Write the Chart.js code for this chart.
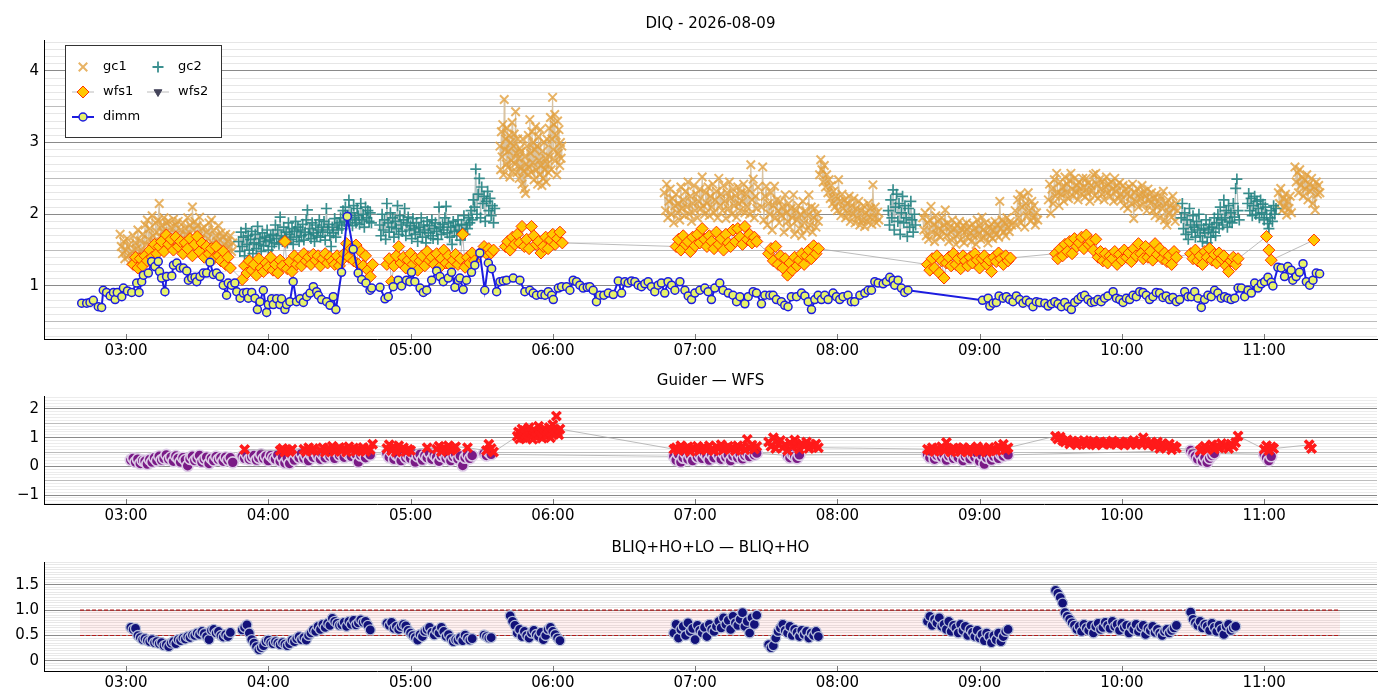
<!DOCTYPE html>
<html>
<head>
<meta charset="utf-8">
<title>DIQ - 2026-08-09</title>
<script src="https://cdn.jsdelivr.net/npm/chart.js@4.4.1/dist/chart.umd.min.js"></script>
<style>
  body { margin: 0; background: #fff; }
  .panel { position: absolute; left: 0; width: 1400px; }
</style>
</head>
<body>
<div class="panel" style="top:0;height:365px"><canvas id="diq"></canvas></div>
<div class="panel" style="top:365px;height:165px"><canvas id="guider"></canvas></div>
<div class="panel" style="top:530px;height:167px"><canvas id="bliq"></canvas></div>
<script>
// time axis is minutes after 00:00 UT
const xTickMinutes = [180, 240, 300, 360, 420, 480, 540, 600, 660];

// dimm seeing (irregular sampling, explicit times)
const dimmT = [161.3,163.4,164.8,166.2,168.3,169.7,170.4,171.8,173.3,174.7,175.4,176.3,178.2,178.9,180.6,182.4,184.5,185.5,186.6,187.3,189.4,190.8,192.2,193.6,194.1,195.0,196.4,197.1,199.3,200.0,201.4,202.8,204.2,205.6,206.3,207.7,209.1,209.8,211.2,212.6,214.0,215.4,216.8,218.2,219.6,221.0,222.4,223.1,224.5,225.9,226.7,228.1,229.5,230.9,231.6,233.0,234.4,235.4,236.5,237.9,239.3,240.0,241.4,242.1,243.5,244.9,245.6,247.0,247.7,249.1,250.5,251.9,253.4,254.8,256.2,257.6,259.0,260.4,261.1,262.5,264.6,266.0,267.4,268.5,270.9,273.3,275.8,277.9,279.4,281.2,282.9,283.6,287.1,289.2,290.6,292.7,294.8,296.2,298.3,299.7,300.4,301.8,304.0,305.4,306.8,308.9,311.0,312.4,313.8,315.9,317.3,318.7,320.1,320.8,322.2,323.6,325.7,327.1,329.2,331.3,332.8,334.2,336.3,337.7,339.1,340.5,343.3,346.1,
  348.2,350.3,351.7,353.1,355.2,356.7,358.1,359.5,360.2,362.3,363.7,365.8,367.2,368.6,370.0,371.4,372.8,374.5,375.6,377.0,378.4,379.8,381.5,383.4,385.5,387.6,389.0,390.4,391.8,393.2,394.6,396.0,397.4,398.8,400.2,401.6,403.0,404.4,405.8,407.2,408.6,410.1,411.5,413.6,415.7,417.1,418.5,419.9,422.0,424.1,425.5,426.9,428.3,430.4,431.8,434.0,436.0,437.5,438.9,441.0,442.4,444.5,445.9,448.0,449.4,451.5,452.9,454.3,456.4,457.8,459.2,460.6,462.8,464.9,466.3,467.7,469.1,470.5,471.9,473.3,474.7,476.1,478.2,479.6,481.0,482.4,484.5,485.9,487.3,489.5,491.6,493.0,494.4,495.8,497.2,499.3,500.7,502.1,503.5,504.2,505.6,507.0,508.4,509.8,
  541.2,543.6,544.3,545.7,547.1,548.2,549.9,551.3,552.7,554.1,555.5,556.9,558.3,559.7,561.1,562.5,563.9,565.3,567.5,568.9,570.3,571.7,573.1,574.5,575.9,577.3,578.7,580.1,581.5,582.9,584.3,585.7,587.1,588.5,589.9,591.3,592.7,594.1,596.3,597.7,599.1,600.5,601.9,603.3,604.7,606.1,607.5,608.9,610.3,611.7,613.1,614.5,615.9,617.3,618.7,620.1,621.5,623.0,624.4,626.5,627.9,629.3,630.7,632.1,633.5,634.9,636.3,637.7,639.1,640.5,641.9,643.3,644.7,646.1,647.6,649.0,650.4,651.8,653.2,654.6,656.0,657.4,658.8,660.2,661.6,663.0,663.7,665.8,667.2,668.6,670.0,671.4,672.1,673.5,674.9,676.4,677.8,679.2,680.6,682.0,683.4];
const dimmV = [0.76,0.76,0.77,0.80,0.71,0.70,0.94,0.91,0.86,0.91,0.81,0.91,0.85,0.97,0.93,0.91,1.04,0.91,1.06,1.15,1.18,1.34,1.27,1.34,1.20,1.11,0.92,1.13,1.14,1.29,1.32,1.25,1.25,1.21,1.08,1.11,1.12,1.06,1.13,1.18,1.18,1.33,1.16,1.18,1.13,1.01,0.87,1.04,1.01,1.04,0.92,0.83,0.90,0.91,0.83,0.91,0.83,0.67,0.78,0.94,0.63,0.74,0.82,0.74,0.82,0.74,0.82,0.67,0.74,0.78,1.06,0.78,0.82,0.77,0.85,0.90,0.99,0.92,0.87,0.81,0.78,0.73,0.85,0.67,1.19,1.97,1.51,1.18,1.09,1.04,0.94,0.97,0.98,0.82,0.85,0.99,1.08,1.00,1.08,1.06,1.19,1.06,0.97,0.91,0.94,1.08,1.21,1.13,1.06,1.11,1.19,0.98,1.08,1.11,0.95,1.08,1.19,1.29,1.46,0.94,1.32,1.24,0.92,1.06,1.07,1.08,1.11,1.08,
  0.92,0.94,0.90,0.87,0.88,0.87,0.92,0.87,0.81,0.97,0.99,0.99,0.94,1.08,1.06,1.01,0.97,0.98,0.99,0.94,0.78,0.87,0.87,0.90,0.88,1.07,0.90,1.06,1.04,1.07,1.06,1.01,0.99,1.03,1.06,0.99,0.92,1.01,1.04,0.90,1.06,1.01,0.94,1.06,0.94,0.86,0.81,0.90,0.94,0.97,0.92,0.81,0.97,1.04,0.94,0.90,0.87,0.78,0.85,0.75,0.85,0.92,0.90,0.75,0.87,0.87,0.87,0.81,0.78,0.73,0.71,0.85,0.85,0.90,0.86,0.78,0.67,0.81,0.87,0.81,0.87,0.81,0.90,0.85,0.81,0.85,0.87,0.78,0.78,0.87,0.90,0.94,0.94,1.06,1.04,1.03,1.06,1.12,1.08,1.01,1.08,0.97,0.91,0.94,
  0.80,0.83,0.72,0.76,0.77,0.86,0.83,0.85,0.81,0.78,0.86,0.81,0.76,0.80,0.77,0.71,0.78,0.77,0.76,0.72,0.75,0.78,0.75,0.71,0.77,0.71,0.67,0.77,0.81,0.85,0.87,0.81,0.77,0.78,0.81,0.78,0.83,0.86,0.92,0.83,0.81,0.77,0.83,0.81,0.87,0.85,0.92,0.91,0.87,0.81,0.85,0.91,0.90,0.84,0.86,0.81,0.84,0.78,0.81,0.92,0.85,0.85,0.92,0.83,0.70,0.81,0.87,0.85,0.94,0.90,0.83,0.85,0.83,0.81,0.83,0.97,0.97,0.85,0.94,0.90,1.04,0.97,1.03,1.06,1.12,1.05,1.00,1.26,1.25,1.13,1.27,1.22,1.08,1.13,1.19,1.31,1.06,1.01,1.08,1.18,1.17];

// guide-camera / wfs series: each block is [first minute, cadence in minutes, values]
const gc1Blocks = [
  [177.5, 0.5, [1.72,1.55,1.45,1.62,1.38,1.50,1.66,1.42,1.58,1.35,1.48,1.70,1.40,1.60,1.52,1.78,1.44,1.63,1.50,1.72,1.46,1.85,1.58,1.92,1.65,1.80,1.55,1.98,1.70,1.62,1.88,1.75,1.92,2.15,1.68,1.84,1.76,1.95,1.60,1.88,1.72,1.90,1.58,1.82,1.68,1.93,1.74,1.85,1.62,1.90,1.70,1.78,1.55,1.88,1.66,1.80,1.72,1.95,1.58,1.85,1.68,2.10,1.78,1.90,1.62,1.84,1.70,1.96,1.64,1.80,1.58,1.82,1.50,1.75,1.66,1.88,1.55,1.92,1.60,1.78,1.48,1.70,1.62,1.84,1.52,1.74,1.50,1.68,1.58,1.72,1.45,1.62,1.55,1.70,1.48,1.60]],
  [337.7, 0.3, [2.95,2.62,3.15,2.80,3.25,2.55,3.60,2.90,3.05,2.70,3.20,2.65,2.88,3.10,2.52,3.00,2.75,3.28,2.60,2.95,3.12,2.70,3.43,2.85,2.58,3.05,2.78,2.50,2.92,2.66,2.88,2.42,3.05,2.60,2.35,2.80,2.29,2.70,2.95,2.55,3.10,2.65,3.32,2.85,2.58,3.15,2.72,3.00,2.48,2.90,3.22,2.62,2.95,2.42,3.08,2.75,2.55,3.18,2.68,2.40,2.88,2.50,3.00,2.62,2.78,2.45,3.05,2.70,2.58,3.20,2.80,3.35,2.62,3.05,3.63,2.90,3.25,3.39,2.75,3.10,2.55,3.30,2.85,3.18,2.68,3.00,2.78,2.95]],
  [407, 0.5, [2.30,2.05,2.42,1.95,2.18,2.35,2.00,2.22,1.88,2.12,2.28,2.02,2.15,1.92,2.38,2.08,2.20,1.98,2.32,2.10,2.45,2.00,2.25,1.90,2.15,2.40,2.05,2.28,1.95,2.18,2.35,2.08,2.52,2.12,2.00,2.30,2.15,2.38,1.98,2.25,2.10,2.42,2.02,2.20,2.32,1.95,2.50,2.12,2.28,2.05,2.40,2.18,1.94,2.30,2.08,2.45,2.22,2.00,2.35,2.12,2.26,1.96,2.38,2.15,2.05,2.30,2.18,2.42,2.02,2.28,2.10,2.35,2.00,2.69,2.20,2.49,1.95,2.25,2.08,2.38]],
  [448, 0.5, [2.10,2.66,1.92,2.25,2.39,1.85,2.15,2.00,2.30,1.78,2.12,2.39,1.95,2.20,2.05,1.88,2.18,1.98,2.10,1.75,2.27,2.02,1.90,2.15,1.82,2.08,1.95,2.27,1.72,2.05,1.92,2.12,1.80,2.00,1.70,2.18,1.88,2.05,1.78,1.98,2.27,1.85,2.10,1.75,1.95,2.08,1.82,2.00,1.90]],
  [472.5, 0.5, [2.55,2.76,2.62,2.45,2.68,2.38,2.55,2.30,2.48,2.22,2.40,2.15,2.32,2.10,2.25,2.05,2.48,2.18,1.98,2.28,2.08,2.20,1.95,2.15,2.02,2.25,1.90,2.12,2.00,2.22,1.88,2.08,1.95,2.18,1.85,2.05,1.92,2.12,1.83,2.02,1.90,2.15,1.96,2.08,1.86,2.41,1.95,2.10,1.88,2.03,1.92]],
  [516, 0.5, [1.95,1.78,2.02,1.70,1.88,1.65,1.92,2.11,1.75,1.85,1.62,1.98,1.72,1.90,1.80,1.68,1.95,1.76,1.85,2.06,1.70,1.88,1.62,1.82,1.75,1.92,1.66,1.80,1.58,1.85,1.72,1.90,1.64,1.78,1.84,1.60,1.76,1.88,1.68,1.82,1.74,1.62,1.86,1.70,1.80,1.58,1.92,1.72,1.84,1.65,1.96,1.78,1.68,1.88,1.74,1.60,1.82,1.70,1.86,1.66,1.78,1.90,1.72,1.85,1.68,2.18,1.80,1.92,1.75,1.88,1.70,1.95,1.82,1.76,1.90,1.85]],
  [555, 0.5, [2.05,1.85,2.20,1.95,2.28,1.88,2.10,2.25,1.82,2.15,1.98,2.30,2.05,1.90,2.18,1.95,2.12,1.85,2.02,1.92]],
  [569, 0.5, [2.20,2.42,2.01,2.35,2.15,2.48,2.25,2.57,2.30,2.12,2.45,2.28,2.38,2.18,2.52,2.30,2.42,2.22,2.47,2.57,2.35,2.25,2.50,2.32,2.40,2.20,2.45,2.36,2.28,2.50,2.38,2.24,2.50,2.30,2.44,2.18,2.40,2.33,2.55,2.26,2.57,2.42,2.22,2.48,2.35,2.28,2.46,2.20,2.38,2.52,2.30,2.42,2.25,2.45,2.35,2.18,2.50,2.32,2.40,2.22,2.44,2.28,2.20,2.40,2.12,2.35,2.28,2.08,2.38,2.25,2.15,2.42,1.94,2.30,2.18,2.36,2.10,2.28,2.22,2.40,2.14,2.32,2.25,2.05,2.35,2.20,2.15,2.30,2.05,2.22,1.98,2.28,2.10,2.18,1.95,2.25,2.08,2.32,1.92,2.15,1.85,2.20,2.02,2.12,1.96,2.25,2.08,1.90,2.15,2.05]],
  [666, 0.5, [2.30,2.15,2.36,2.05,2.22,2.10,2.28,1.99,2.18,2.08,2.25,2.02]],
  [673, 0.5, [2.66,2.45,2.58,2.30,2.62,2.40,2.52,2.25,2.48,2.35,2.55,2.20,2.42,2.32,2.50,2.15,2.38,2.06,2.45,2.28,2.40,2.30]]
];
const gc2Blocks = [
  [227.5, 0.5, [1.62,1.48,1.75,1.55,1.68,1.42,1.80,1.58,1.70,1.50,1.65,1.76,1.45,1.60,1.72,1.52,1.83,1.58,1.66,1.48,1.74,1.56,1.68,1.62,1.78,1.50,1.64,1.70,1.55,1.72,1.60,1.85,1.66,1.78,1.58,1.96,1.70,1.62,1.82,1.68,1.75,1.60,1.88,1.72,1.65,1.80,1.58,1.76,1.90,1.68,1.82,1.62,1.78,1.70,1.86,1.64,1.75,1.92,2.06,1.72,1.80,1.66,1.88,1.74,1.62,1.85,1.70,1.78,1.92,1.68,1.82,1.75,1.90,1.64,2.08,1.78,1.86,1.70,1.55,1.82,1.74,1.94,1.68,1.85,1.78,1.88,1.95,1.80,2.05,1.90,2.10,1.85,1.98,2.20,1.92,2.02,1.84,2.12,1.95,1.88,2.08,1.98,1.86,2.15,1.92,2.00,1.82,2.10,1.95,2.05,1.90,2.02,1.88]],
  [287, 0.5, [1.85,1.70,2.00,1.78,1.92,1.65,2.15,1.88,1.75,2.02,1.82,1.95,1.68,1.90,1.80,2.12,1.72,1.98,1.85,1.76,1.92,2.08,1.70,1.88,1.96,1.78,1.84,1.66,1.94,1.80,1.72,1.88,1.62,1.82,1.75,1.95,1.68,1.85,1.78,1.60,1.90,1.74,1.84,1.70,1.92,1.66,1.80,1.88,1.76,1.65,2.10,1.82,1.72,1.86,1.78,1.95,2.11,1.74,1.88,1.68,1.82,1.58,1.90,1.76,1.84,1.70,1.92,1.78,1.64,1.86,1.75,1.98,1.72,1.85,1.80,1.95,1.88,2.05,1.92,2.20,2.10,2.63,2.00,2.28,2.50,1.95,2.38,2.15,2.25,1.90,2.18,2.32,2.05,2.22,1.98,2.12,1.88,2.08]],
  [501.5, 0.5, [2.05,1.85,2.20,1.95,2.34,1.78,2.10,2.28,1.90,2.15,1.72,2.02,2.25,1.88,2.12,1.95,1.69,2.08,1.82,2.18,1.92,1.75,2.00,1.85]],
  [625, 0.5, [1.95,2.15,1.80,2.02,1.72,1.92,1.65,2.08,1.85,1.75,1.98,1.82,1.68,1.90,1.78,2.00,1.70,1.85,1.62,1.80,1.74,1.92,1.60,1.78,1.86,1.68,1.82,1.75,1.95,1.70,1.88,2.00,1.80,2.10,1.92,1.85,2.20,1.95,2.05,1.82,2.12,1.90,2.02,1.88,2.15,1.96,2.36,2.49,2.05,1.92]],
  [653, 0.5, [2.15,2.29,2.05,2.22,1.98,2.12,2.25,2.00,2.18,2.08,1.95,2.20,2.02,2.14,1.92,2.10,2.00,1.87,1.80,1.95,2.05,1.90,2.12,2.00,2.08]]
];
const wfs1Blocks = [
  [183, 1, [1.30,1.40,1.25,1.38,1.28,1.42,1.35,1.50,1.40,1.58,1.45,1.55,1.62,1.48,1.71,1.58,1.65,1.50,1.68,1.55,1.62,1.45,1.60,1.52,1.66,1.42,1.58,1.69,1.48,1.60,1.40,1.55,1.45,1.52,1.38,1.55,1.42,1.35,1.48,1.30,1.40,1.25]],
  [229, 1, [1.09,1.28,1.18,1.35,1.22,1.30,1.15,1.38,1.25,1.20,1.32,1.26,1.40,1.22,1.30,1.18,1.36,1.28,1.62,1.24,1.34,1.20,1.42,1.30,1.38,1.28,1.45,1.35,1.40,1.30,1.44,1.36,1.42,1.28,1.38,1.45,1.32,1.40,1.35,1.30,1.42,1.28,1.36]],
  [272, 1, [1.45,1.59,1.40,1.52,1.35,1.57,1.30,1.48,1.28,1.42,1.22,1.13,1.30]],
  [290, 1, [1.30,1.38,1.06,1.28,1.42,1.55,1.32,1.40,1.25,1.36,1.45,1.30,1.38,1.22,1.35,1.42,1.28,1.48,1.36,1.40,1.30,1.45,1.25,1.38,1.50,1.32,1.42,1.28,1.36,1.44,1.30,1.38,1.72,1.26,1.40,1.32,1.46,1.35]],
  [330, 1, [1.48,1.55,1.45,1.52,1.46,1.50]],
  [340, 1, [1.55,1.62,1.50,1.68,1.58,1.72,1.60,1.83,1.55,1.65,1.52,1.83,1.70,1.58,1.62,1.46,1.55,1.68,1.52,1.64,1.72,1.58,1.66,1.75,1.60]],
  [412, 1, [1.55,1.65,1.50,1.70,1.58,1.62,1.48,1.68,1.56,1.72,1.60,1.80,1.65,1.55,1.70,1.62,1.52,1.75,1.58,1.66,1.50,1.72,1.60,1.55,1.78,1.62,1.80,1.68,1.58,1.83,1.65,1.72,1.60,1.68,1.62]],
  [451, 1, [1.45,1.52,1.35,1.55,1.30,1.42,1.25,1.38,1.15,1.32,1.22,1.40,1.28,1.36,1.45,1.30,1.42,1.50,1.38,1.56,1.45,1.52]],
  [518, 1, [1.30,1.22,1.38,1.25,1.42,1.18,1.35,1.11,1.32,1.40,1.28,1.45,1.30,1.38,1.24,1.42,1.35,1.28,1.40,1.32,1.45,1.36,1.25,1.38,1.42,1.30,1.36,1.20,1.40,1.34,1.46,1.38,1.30,1.42,1.35,1.39]],
  [572, 1, [1.45,1.38,1.52,1.42,1.58,1.48,1.62,1.45,1.66,1.55,1.60,1.68,1.52,1.71,1.58,1.62,1.50,1.65,1.40,1.48,1.35,1.45,1.32,1.42,1.38,1.48,1.30,1.44,1.36,1.50,1.40,1.46,1.34,1.52,1.42,1.59,1.45,1.38,1.55,1.40,1.48,1.36,1.59,1.44,1.52,1.38,1.46,1.34,1.42,1.30,1.48,1.40]],
  [629, 1, [1.45,1.38,1.50,1.35,1.42,1.30,1.48,1.40,1.52,1.36,1.44,1.32,1.46,1.38,1.42,1.28,1.20,1.35,1.40,1.30,1.38]],
  [661, 1, [1.69,1.50,1.36]],
  [681, 1, [1.64]]
];
const wfs2Blocks = [];

// Guider - WFS panel
const guiderBlocks = [
  [182, 1, [0.22,0.28,0.15,0.25,0.10,0.20,0.18,0.08,0.24,0.15,0.30,0.20,0.35,0.22,0.28,0.40,0.25,0.32,0.18,0.36,0.28,0.15,0.30,0.22,0.02,0.26,0.35,0.20,0.28,0.38,0.15,0.25,0.32,0.10,0.28,0.20,0.34,0.24,0.30,0.18,0.32,0.22,0.30,0.14]],
  [229, 1, [0.35,0.28,0.40,0.25,0.32,0.38,0.22,0.30,0.42,0.28,0.35,0.20,0.38,0.30,0.25,0.40,0.18,0.32,0.12,0.28,0.10,0.35,0.22,0.40,0.30,0.45,0.28,0.38,0.20,0.42,0.32,0.48,0.35,0.25,0.40,0.30,0.45,0.35,0.42,0.28,0.50,0.38,0.45,0.32,0.48,0.40,0.35,0.52,0.42,0.15,0.38,0.45,0.30,0.48,0.40]],
  [290, 1, [0.45,0.32,0.50,0.25,0.40,0.35,0.20,0.42,0.30,0.38,0.28,0.45,0.15,0.35,0.42,0.22,0.38,0.30,0.46,0.25,0.40,0.32,0.18,0.36,0.44,0.28,0.38,0.20,0.34,0.42,0.26,0.36,0.03,0.30,0.40,0.28,0.38]],
  [331, 1, [0.45,0.38,0.50,0.42]],
  [411, 1, [0.35,0.22,0.42,0.15,0.30,0.45,0.25,0.38,0.20,0.48,0.32,0.40,0.28,0.45,0.35,0.22,0.42,0.30,0.50,0.38,0.25,0.45,0.32,0.40,0.20,0.36,0.48,0.30,0.42,0.26,0.38,0.45,0.34,0.52,0.40,0.46]],
  [459, 1, [0.38,0.30,0.42,0.35,0.28,0.40]],
  [518, 1, [0.42,0.30,0.48,0.25,0.38,0.45,0.32,0.40,0.22,0.36,0.44,0.28,0.38,0.30,0.46,0.20,0.35,0.42,0.26,0.40,0.32,0.45,0.18,0.38,0.08,0.30,0.40,0.22,0.35,0.45,0.28,0.42,0.36,0.48,0.40]],
  [629, 1, [0.55,0.45,0.35,0.25,0.40,0.18,0.30,0.14,0.28,0.38,0.45]],
  [660, 1, [0.42,0.30,0.20,0.35]]
];
const wfsBlocks = [
  [230, 1, [0.59]],
  [245, 1, [0.55,0.62,0.50,0.58,0.52,0.60]],
  [255, 1, [0.60,0.52,0.65,0.55,0.62]],
  [262, 1, [0.55,0.65,0.50,0.62,0.58,0.70,0.52,0.60,0.66,0.55,0.62,0.50,0.68,0.58,0.64,0.53,0.60,0.56,0.66,0.52,0.62,0.58,0.77]],
  [290, 1, [0.62,0.75,0.55,0.68,0.50,0.72,0.58,0.65,0.52,0.60,0.55]],
  [307, 1, [0.65]],
  [311, 1, [0.60,0.70,0.52,0.66,0.58,0.72,0.55,0.62,0.68]],
  [324, 1, [0.65]],
  [332, 1, [0.55,0.77,0.62,0.50]],
  [345, 0.5, [1.05,1.20,0.95,1.15,1.30,1.00,1.25,1.10,0.98,1.22,1.35,1.05,1.18,0.94,1.28,1.12,1.02,1.20,1.40,1.08,1.25,0.98,1.15,1.30,1.05,1.22,1.10,1.35,1.00,1.18,1.45,1.12,1.28,1.75,1.20,1.10,1.30]],
  [411, 1, [0.60,0.65,0.55,0.72,0.58,0.62,0.68,0.52,0.64,0.60,0.70,0.56,0.62,0.66,0.58,0.72,0.60,0.54,0.68,0.62,0.75,0.58,0.64,0.70,0.60,0.66,0.55,0.72,0.62,0.68,0.58,0.94,0.65,0.74,0.60,0.70]],
  [451, 1, [0.85,0.70,1.00,0.62,0.78,0.90,0.65,0.75,0.55,0.82,0.68,0.92,0.72,0.60,0.80,0.70,0.85,0.62,0.75,0.68,0.78,0.65]],
  [518, 1, [0.60,0.55,0.65,0.52,0.62,0.58,0.68,0.55,0.83,0.60,0.50,0.64,0.56,0.62,0.52,0.66,0.58,0.50,0.63,0.55,0.60,0.68,0.52,0.58,0.62,0.50,0.66,0.56,0.60,0.54,0.70,0.62,0.77,0.58,0.65]],
  [572, 1, [1.05,0.95,1.02,0.90,0.85,0.92,0.78,0.88,0.82,0.75,0.86,0.80,0.90,0.76,0.84,0.80,0.88,0.74,0.82,0.86,0.78,0.84,0.80,0.76,0.88,0.82,0.78,0.85,0.80,0.74,0.86,0.82,0.78,0.90,0.76,0.84,0.80,1.00,0.86,0.74,0.82,0.78,0.70,0.85,0.62,0.80,0.72,0.66,0.78,0.58,0.70,0.64]],
  [633, 1, [0.55,0.62,0.70,0.58,0.66,0.75,0.60,0.72,0.64,0.80,0.68,0.74,0.62,0.78,0.70,0.83,1.06]],
  [660, 1, [0.60,0.72,0.55,0.68,0.62]],
  [679, 1, [0.75,0.62]]
];

// BLIQ+HO+LO - BLIQ+HO panel
const bliqBlocks = [
  [182, 1, [0.66,0.62,0.64,0.50,0.46,0.42,0.44,0.40,0.38,0.42,0.36,0.38,0.34,0.36,0.30,0.32,0.28,0.35,0.38,0.34,0.42,0.40,0.45,0.43,0.48,0.46,0.51,0.50,0.55,0.52,0.58,0.54,0.48,0.42,0.60,0.62,0.55,0.58,0.50,0.47,0.52,0.48,0.56]],
  [229, 1, [0.61,0.66,0.71,0.55,0.42,0.35,0.28,0.22,0.26,0.30,0.38,0.41,0.36,0.34,0.38,0.35,0.32,0.36,0.33,0.30,0.34,0.41,0.38,0.44,0.48,0.42,0.46,0.41,0.50,0.55,0.61,0.58,0.68,0.62,0.72,0.66,0.74,0.70,0.84,0.78,0.74,0.70,0.71,0.76,0.68,0.78,0.72,0.80,0.71,0.75,0.81,0.76,0.78,0.70,0.61]],
  [290, 1, [0.74,0.70,0.76,0.64,0.68,0.62,0.68,0.72,0.69,0.60,0.55,0.50,0.46,0.41,0.52,0.48,0.58,0.62,0.66,0.56,0.51,0.60,0.55,0.66,0.58,0.48,0.52,0.44,0.38,0.42,0.41,0.46,0.40,0.51,0.45,0.41,0.44]],
  [331, 1, [0.51,0.48,0.45,0.46]],
  [342, 1, [0.89,0.78,0.70,0.55,0.62,0.48,0.58,0.50,0.45,0.55,0.60,0.52,0.48,0.56,0.42,0.50,0.62,0.66,0.58,0.52,0.45,0.40]],
  [411, 1, [0.55,0.72,0.45,0.62,0.68,0.50,0.75,0.58,0.64,0.42,0.70,0.60,0.55,0.66,0.48,0.72,0.62,0.58,0.68,0.78,0.65,0.85,0.72,0.80,0.62,0.88,0.75,0.70,0.82,0.95,0.68,0.78,0.55,0.85,0.72,0.90]],
  [451, 1, [0.32,0.26,0.30,0.45,0.58,0.65,0.72,0.60,0.55,0.68,0.50,0.62,0.56,0.48,0.60,0.52,0.58,0.45,0.55,0.50,0.58,0.48]],
  [518, 1, [0.78,0.88,0.70,0.82,0.75,0.85,0.68,0.72,0.62,0.78,0.58,0.70,0.65,0.55,0.72,0.60,0.68,0.50,0.62,0.56,0.48,0.60,0.45,0.52,0.40,0.55,0.48,0.36,0.50,0.42,0.55,0.38,0.48,0.58,0.62]],
  [572, 1, [1.39,1.33,1.25,1.14,0.95,0.88,0.82,0.75,0.70,0.62,0.68,0.58,0.72,0.65,0.60,0.70,0.55,0.68,0.74,0.62,0.66,0.76,0.70,0.64,0.78,0.68,0.72,0.60,0.74,0.66,0.70,0.55,0.68,0.62,0.72,0.58,0.66,0.70,0.52,0.64,0.60,0.68,0.56,0.62,0.55,0.50,0.58,0.62,0.55,0.60,0.65,0.70]],
  [629, 1, [0.96,0.82,0.75,0.70,0.78,0.65,0.72,0.68,0.60,0.74,0.66,0.58,0.70,0.62,0.52,0.68,0.72,0.60,0.65,0.68]]
];
// target band in the lower panel
const bandX = [160.6, 692];
const bandLow = 0.5;
const bandHigh = 1.0;

// ---------------------------------------------------------------------------

Chart.defaults.font.family = '"DejaVu Sans", sans-serif';
Chart.defaults.font.size = 15;
Chart.defaults.color = '#000';

const GRAYLINE = 'rgba(165,165,165,0.75)';
const X_MIN = 145.4, X_MAX = 707.6;

// unroll blocks into points; gap=true puts a break between blocks
function blocksToPoints(blocks, gap) {
  const pts = [];
  blocks.forEach(([t0, dt, vals], k) => {
    if (gap && k > 0) pts.push({ x: t0 - dt, y: null });
    vals.forEach((v, i) => pts.push({ x: t0 + i * dt, y: v }));
  });
  return pts;
}

function near(v, m) {
  return Math.abs(v / m - Math.round(v / m)) < 1e-6;
}

function gridTicks(lo, hi, step) {
  const ticks = [];
  for (let k = Math.ceil(lo / step - 1e-9); k * step <= hi + 1e-9; k++) {
    ticks.push({ value: Math.round(k * step * 1000) / 1000 });
  }
  return ticks;
}

function hhmm(v) {
  return String(Math.round(v / 60)).padStart(2, '0') + ':00';
}

// title centred over the plot area
const panelTitle = {
  id: 'panelTitle',
  afterDraw(chart, args, opts) {
    const { ctx, chartArea } = chart;
    ctx.save();
    ctx.font = '15px "DejaVu Sans"';
    ctx.fillStyle = '#000';
    ctx.textAlign = 'center';
    ctx.textBaseline = 'middle';
    ctx.fillText(opts.text, (chartArea.left + chartArea.right) / 2, opts.y);
    ctx.restore();
  }
};

// inward hour ticks on the bottom spine
const innerTicks = {
  id: 'innerTicks',
  afterDraw(chart) {
    const { ctx, chartArea, scales } = chart;
    ctx.save();
    ctx.strokeStyle = '#777';
    ctx.lineWidth = 1;
    scales.x.ticks.forEach(t => {
      const px = Math.round(scales.x.getPixelForValue(t.value)) + 0.5;
      ctx.beginPath();
      ctx.moveTo(px, chartArea.bottom);
      ctx.lineTo(px, chartArea.bottom - 5);
      ctx.stroke();
    });
    ctx.restore();
  }
};

function xAxis() {
  return {
    type: 'linear',
    min: X_MIN,
    max: X_MAX,
    afterBuildTicks: s => { s.ticks = xTickMinutes.map(v => ({ value: v })); },
    afterFit: s => { s.height = 26; },
    grid: { display: false, drawTicks: false },
    border: { display: true, color: '#000', width: 1 },
    ticks: { callback: hhmm, maxRotation: 0, autoSkip: false, padding: 3, color: '#000' }
  };
}

function yAxis(min, max, step, colorFn, labelFn) {
  return {
    type: 'linear',
    min: min,
    max: max,
    afterBuildTicks: s => { s.ticks = gridTicks(min, max, step); },
    afterFit: s => { s.width = 44; },
    grid: {
      drawTicks: false,
      color: c => colorFn(c.tick.value),
      lineWidth: 1
    },
    border: { display: true, color: '#000', width: 1 },
    ticks: { autoSkip: false, padding: 5, callback: labelFn, color: '#000' }
  };
}

function baseOptions(extra) {
  return Object.assign({
    responsive: true,
    maintainAspectRatio: false,
    animation: false,
    events: [],
    plugins: { legend: { display: false }, tooltip: { enabled: false } }
  }, extra);
}

// --------------------------- top panel: DIQ -------------------------------

const GC1 = 'rgba(226,160,62,0.8)';
const GC2 = 'rgba(38,132,132,0.9)';

const legendBox = {
  id: 'legendBox',
  afterDraw(chart) {
    const ctx = chart.ctx;
    const drawPoint = Chart.helpers.drawPoint;
    ctx.save();
    ctx.fillStyle = '#fff';
    ctx.fillRect(65, 45, 156, 92);
    ctx.strokeStyle = '#333';
    ctx.lineWidth = 1;
    ctx.strokeRect(65.5, 45.5, 156, 92);

    const entries = [
      { label: 'gc1', x: 83, y: 67, style: 'crossRot', r: 6, fill: 'rgba(0,0,0,0)', stroke: GC1, bw: 2 },
      { label: 'gc2', x: 158, y: 67, style: 'cross', r: 5.5, fill: 'rgba(0,0,0,0)', stroke: GC2, bw: 1.8 },
      { label: 'wfs1', x: 83, y: 92, style: 'rectRot', r: 6, fill: '#ffc800', stroke: '#ff3300', bw: 1, line: GRAYLINE, lw: 1 },
      { label: 'wfs2', x: 158, y: 92, style: 'triangle', rot: 180, r: 4.5, fill: '#44445a', stroke: '#44445a', bw: 1, line: GRAYLINE, lw: 1 },
      { label: 'dimm', x: 83, y: 117, style: 'circle', r: 4, fill: '#e6f26a', stroke: '#1c1ce0', bw: 1.5, line: '#1c1ce0', lw: 2 }
    ];
    entries.forEach(e => {
      if (e.line) {
        ctx.strokeStyle = e.line;
        ctx.lineWidth = e.lw;
        ctx.beginPath();
        ctx.moveTo(e.x - 11, e.y);
        ctx.lineTo(e.x + 11, e.y);
        ctx.stroke();
      }
      ctx.fillStyle = e.fill;
      ctx.strokeStyle = e.stroke;
      ctx.lineWidth = e.bw;
      drawPoint(ctx, { pointStyle: e.style, radius: e.r, rotation: e.rot || 0, borderWidth: e.bw }, e.x, e.y);
      ctx.fillStyle = '#000';
      ctx.font = '13px "DejaVu Sans"';
      ctx.textAlign = 'left';
      ctx.textBaseline = 'middle';
      ctx.fillText(e.label, e.x + 20, e.y);
    });
    ctx.restore();
  }
};

const dimmPoints = dimmT.map((t, i) => ({ x: t, y: dimmV[i] }));

new Chart(document.getElementById('diq'), {
  type: 'scatter',
  data: {
    datasets: [
      {
        label: 'dimm', data: dimmPoints, showLine: true,
        borderColor: '#1c1ce0', borderWidth: 2,
        pointStyle: 'circle', pointRadius: 4, pointBorderWidth: 1.5,
        pointBackgroundColor: '#e6f26a', pointBorderColor: '#1c1ce0'
      },
      {
        label: 'wfs1', data: blocksToPoints(wfs1Blocks, false), showLine: true,
        borderColor: GRAYLINE, borderWidth: 1,
        pointStyle: 'rectRot', pointRadius: 6, pointBorderWidth: 1,
        pointBackgroundColor: '#ffc800', pointBorderColor: '#ff3300'
      },
      {
        label: 'wfs2', data: blocksToPoints(wfs2Blocks, false), showLine: true,
        borderColor: GRAYLINE, borderWidth: 1,
        pointStyle: 'triangle', rotation: 180, pointRadius: 4.5,
        pointBackgroundColor: '#44445a', pointBorderColor: '#44445a'
      },
      {
        label: 'gc2', data: blocksToPoints(gc2Blocks, true), showLine: true,
        borderColor: 'rgba(168,186,186,0.9)', borderWidth: 1.2,
        pointStyle: 'cross', pointRadius: 5.5, pointBorderWidth: 1.7,
        pointBackgroundColor: 'rgba(0,0,0,0)', pointBorderColor: GC2
      },
      {
        label: 'gc1', data: blocksToPoints(gc1Blocks, true), showLine: true,
        borderColor: 'rgba(214,190,152,0.9)', borderWidth: 1.2,
        pointStyle: 'crossRot', pointRadius: 6, pointBorderWidth: 2,
        pointBackgroundColor: 'rgba(0,0,0,0)', pointBorderColor: GC1
      }
    ]
  },
  options: baseOptions({
    layout: { padding: { top: 40, right: 23, left: 0, bottom: 0 } },
    scales: {
      x: xAxis(),
      y: yAxis(0.26, 4.43, 0.1,
        v => near(v, 1) ? '#8a8a8a' : near(v, 0.5) ? '#bcbcbc' : '#e6e6e6',
        v => near(v, 1) ? String(Math.round(v)) : '')
    },
    plugins: {
      legend: { display: false }, tooltip: { enabled: false },
      panelTitle: { text: 'DIQ - 2026-08-09', y: 24 }
    }
  }),
  plugins: [panelTitle, innerTicks, legendBox]
});

// ------------------------- middle panel: Guider — WFS ---------------------

new Chart(document.getElementById('guider'), {
  type: 'scatter',
  data: {
    datasets: [
      {
        label: 'WFS', data: blocksToPoints(wfsBlocks, false), showLine: true,
        borderColor: GRAYLINE, borderWidth: 1,
        pointStyle: 'crossRot', pointRadius: 6, pointBorderWidth: 3.5,
        pointBorderColor: '#ff1a1a', pointBackgroundColor: '#ff1a1a'
      },
      {
        label: 'Guider', data: blocksToPoints(guiderBlocks, false), showLine: true,
        borderColor: GRAYLINE, borderWidth: 1,
        pointStyle: 'circle', pointRadius: 5.5, pointBorderWidth: 1.6,
        pointBackgroundColor: '#7a1a86', pointBorderColor: '#dccbe6'
      }
    ]
  },
  options: baseOptions({
    layout: { padding: { top: 31, right: 23, left: 0, bottom: 0 } },
    scales: {
      x: xAxis(),
      y: yAxis(-1.31, 2.45, 0.1,
        v => near(v, 1) ? '#8a8a8a' : near(v, 0.5) ? '#bcbcbc' : '#ececec',
        v => near(v, 1) ? String(Math.round(v)).replace('-', '\u2212') : '')
    },
    plugins: {
      legend: { display: false }, tooltip: { enabled: false },
      panelTitle: { text: 'Guider \u2014 WFS', y: 16 }
    }
  }),
  plugins: [panelTitle, innerTicks]
});

// -------------------- bottom panel: BLIQ+HO+LO — BLIQ+HO ------------------

new Chart(document.getElementById('bliq'), {
  type: 'scatter',
  data: {
    datasets: [
      {
        label: 'BLIQ', data: blocksToPoints(bliqBlocks, false),
        pointStyle: 'circle', pointRadius: 5, pointBorderWidth: 1.3,
        pointBackgroundColor: '#12127a', pointBorderColor: '#b4bcd8'
      },
      {
        label: 'band high', type: 'line',
        data: bandX.map(x => ({ x: x, y: bandHigh })),
        borderColor: '#b01c1c', borderWidth: 1.2, borderDash: [4, 2],
        pointRadius: 0, fill: false
      },
      {
        label: 'band low', type: 'line',
        data: bandX.map(x => ({ x: x, y: bandLow })),
        borderColor: '#b01c1c', borderWidth: 1.2, borderDash: [4, 2],
        pointRadius: 0, fill: '-1', backgroundColor: 'rgba(255,60,60,0.08)'
      }
    ]
  },
  options: baseOptions({
    layout: { padding: { top: 32, right: 23, left: 0, bottom: 0 } },
    scales: {
      x: xAxis(),
      y: yAxis(-0.2, 1.95, 0.05,
        v => near(v, 0.5) ? '#8a8a8a' : '#e8e8e8',
        v => near(v, 0.5) ? (Math.abs(v) < 1e-9 ? '0' : v.toFixed(1)) : '')
    },
    plugins: {
      legend: { display: false }, tooltip: { enabled: false },
      panelTitle: { text: 'BLIQ+HO+LO \u2014 BLIQ+HO', y: 18 }
    }
  }),
  plugins: [panelTitle, innerTicks]
});
</script>
</body>
</html>
